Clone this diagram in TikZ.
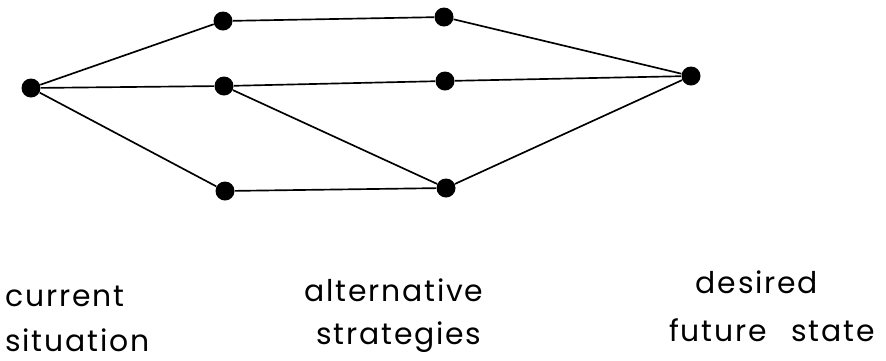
\documentclass[tikz,border=0pt]{standalone}
\usepackage{fontspec}
\setmainfont{Poppins}[LetterSpace=6]

\tikzset{
  dot/.style={circle,fill=black,inner sep=0pt,minimum size=0.38cm},
  link/.style={black,line width=0.95pt},
  caption/.style={anchor=base,inner sep=0pt,font=\fontsize{17}{20}\selectfont}
}

\begin{document}
\begin{tikzpicture}[x=0.02cm,y=-0.02cm]
 \useasboundingbox (0,0) rectangle (886,360);
 % stages
 \node[dot] (now) at (31,88) {};
 \node[dot] (sa) at (223,21) {};
 \node[dot] (sb) at (224,86) {};
 \node[dot] (sc) at (225,191) {};
 \node[dot] (ta) at (444,17) {};
 \node[dot] (tb) at (445,81) {};
 \node[dot] (tc) at (446,188) {};
 \node[dot] (goal) at (691,76) {};
 % paths
 \draw[link] (now)--(sa) (now)--(sb) (now)--(sc);
 \draw[link] (sa)--(ta)--(goal);
 \draw[link] (sb)--(tb)--(goal);
 \draw[link] (sc)--(tc)--(goal);
 \draw[link] (sb)--(tc);
 % captions
 \node[caption,anchor=base west] (cur) at (5,306) {current};
 \node[caption,anchor=base west] (sit) at (5,351) {situation};
 \node[caption] (alt) at (394,301) {alternative};
 \node[caption] (str) at (399,344) {strategies};
 \node[caption] (des) at (757,293) {desired};
 \node[caption] (fut) at (772,341) {future\hspace{14pt}state};
\end{tikzpicture}
\end{document}
